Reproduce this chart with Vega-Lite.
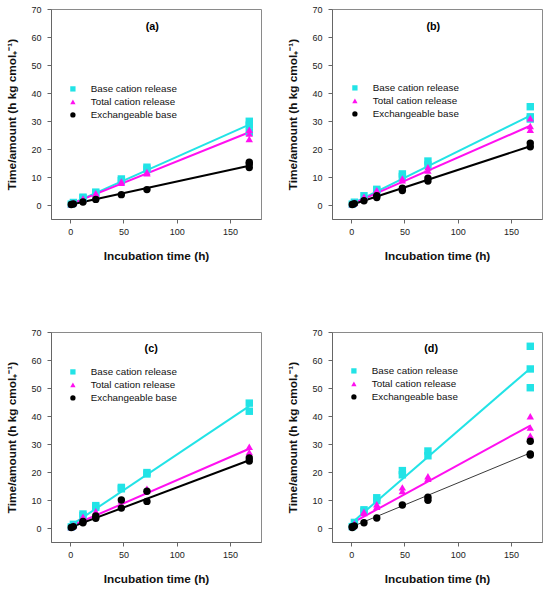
{
  "$schema": "https://vega.github.io/schema/vega-lite/v6.json",
  "background": "white",
  "padding": {"left": 6, "top": 4, "right": 5, "bottom": 2},
  "datasets": {
    "pts": [
      {"panel": "a", "series": "Base cation release", "t": 1, "v": 0.3},
      {"panel": "a", "series": "Base cation release", "t": 3, "v": 0.9},
      {"panel": "a", "series": "Base cation release", "t": 12, "v": 2.8},
      {"panel": "a", "series": "Base cation release", "t": 12, "v": 2.5},
      {"panel": "a", "series": "Base cation release", "t": 24, "v": 4.6},
      {"panel": "a", "series": "Base cation release", "t": 24, "v": 4.2},
      {"panel": "a", "series": "Base cation release", "t": 48, "v": 9.3},
      {"panel": "a", "series": "Base cation release", "t": 48, "v": 8.7},
      {"panel": "a", "series": "Base cation release", "t": 72, "v": 13.5},
      {"panel": "a", "series": "Base cation release", "t": 72, "v": 12.8},
      {"panel": "a", "series": "Base cation release", "t": 168, "v": 29.9},
      {"panel": "a", "series": "Base cation release", "t": 168, "v": 28.5},
      {"panel": "a", "series": "Base cation release", "t": 168, "v": 26},
      {"panel": "a", "series": "Total cation release", "t": 1, "v": 0.3},
      {"panel": "a", "series": "Total cation release", "t": 3, "v": 0.8},
      {"panel": "a", "series": "Total cation release", "t": 12, "v": 2.3},
      {"panel": "a", "series": "Total cation release", "t": 24, "v": 4.2},
      {"panel": "a", "series": "Total cation release", "t": 24, "v": 3.9},
      {"panel": "a", "series": "Total cation release", "t": 48, "v": 8.4},
      {"panel": "a", "series": "Total cation release", "t": 48, "v": 7.9},
      {"panel": "a", "series": "Total cation release", "t": 72, "v": 11.8},
      {"panel": "a", "series": "Total cation release", "t": 72, "v": 11.3},
      {"panel": "a", "series": "Total cation release", "t": 168, "v": 26.9},
      {"panel": "a", "series": "Total cation release", "t": 168, "v": 25.5},
      {"panel": "a", "series": "Total cation release", "t": 168, "v": 23.6},
      {"panel": "a", "series": "Exchangeable base", "t": 1, "v": 0.15},
      {"panel": "a", "series": "Exchangeable base", "t": 3, "v": 0.4},
      {"panel": "a", "series": "Exchangeable base", "t": 12, "v": 1.1},
      {"panel": "a", "series": "Exchangeable base", "t": 24, "v": 2},
      {"panel": "a", "series": "Exchangeable base", "t": 48, "v": 3.7},
      {"panel": "a", "series": "Exchangeable base", "t": 72, "v": 5.5},
      {"panel": "a", "series": "Exchangeable base", "t": 168, "v": 15.3},
      {"panel": "a", "series": "Exchangeable base", "t": 168, "v": 14.6},
      {"panel": "a", "series": "Exchangeable base", "t": 168, "v": 13.4},

      {"panel": "b", "series": "Base cation release", "t": 1, "v": 0.3},
      {"panel": "b", "series": "Base cation release", "t": 3, "v": 1},
      {"panel": "b", "series": "Base cation release", "t": 12, "v": 3.3},
      {"panel": "b", "series": "Base cation release", "t": 24, "v": 5.6},
      {"panel": "b", "series": "Base cation release", "t": 24, "v": 5.2},
      {"panel": "b", "series": "Base cation release", "t": 48, "v": 11.1},
      {"panel": "b", "series": "Base cation release", "t": 48, "v": 10.2},
      {"panel": "b", "series": "Base cation release", "t": 72, "v": 15.7},
      {"panel": "b", "series": "Base cation release", "t": 72, "v": 14.3},
      {"panel": "b", "series": "Base cation release", "t": 168, "v": 35.1},
      {"panel": "b", "series": "Base cation release", "t": 168, "v": 31.5},
      {"panel": "b", "series": "Base cation release", "t": 168, "v": 30.7},
      {"panel": "b", "series": "Total cation release", "t": 1, "v": 0.3},
      {"panel": "b", "series": "Total cation release", "t": 3, "v": 0.9},
      {"panel": "b", "series": "Total cation release", "t": 12, "v": 3},
      {"panel": "b", "series": "Total cation release", "t": 24, "v": 5.3},
      {"panel": "b", "series": "Total cation release", "t": 24, "v": 4.8},
      {"panel": "b", "series": "Total cation release", "t": 48, "v": 9.5},
      {"panel": "b", "series": "Total cation release", "t": 48, "v": 8.8},
      {"panel": "b", "series": "Total cation release", "t": 72, "v": 13.5},
      {"panel": "b", "series": "Total cation release", "t": 72, "v": 12.3},
      {"panel": "b", "series": "Total cation release", "t": 168, "v": 31},
      {"panel": "b", "series": "Total cation release", "t": 168, "v": 28.2},
      {"panel": "b", "series": "Total cation release", "t": 168, "v": 26.9},
      {"panel": "b", "series": "Exchangeable base", "t": 1, "v": 0.2},
      {"panel": "b", "series": "Exchangeable base", "t": 3, "v": 0.5},
      {"panel": "b", "series": "Exchangeable base", "t": 12, "v": 1.5},
      {"panel": "b", "series": "Exchangeable base", "t": 24, "v": 3.3},
      {"panel": "b", "series": "Exchangeable base", "t": 24, "v": 2.7},
      {"panel": "b", "series": "Exchangeable base", "t": 48, "v": 6},
      {"panel": "b", "series": "Exchangeable base", "t": 48, "v": 5.2},
      {"panel": "b", "series": "Exchangeable base", "t": 72, "v": 9.6},
      {"panel": "b", "series": "Exchangeable base", "t": 72, "v": 8.6},
      {"panel": "b", "series": "Exchangeable base", "t": 168, "v": 22.1},
      {"panel": "b", "series": "Exchangeable base", "t": 168, "v": 20.8},

      {"panel": "c", "series": "Base cation release", "t": 1, "v": 0.4},
      {"panel": "c", "series": "Base cation release", "t": 3, "v": 1.3},
      {"panel": "c", "series": "Base cation release", "t": 12, "v": 5},
      {"panel": "c", "series": "Base cation release", "t": 12, "v": 4.4},
      {"panel": "c", "series": "Base cation release", "t": 24, "v": 8},
      {"panel": "c", "series": "Base cation release", "t": 24, "v": 7.4},
      {"panel": "c", "series": "Base cation release", "t": 48, "v": 14.5},
      {"panel": "c", "series": "Base cation release", "t": 48, "v": 14},
      {"panel": "c", "series": "Base cation release", "t": 72, "v": 19.8},
      {"panel": "c", "series": "Base cation release", "t": 72, "v": 19.3},
      {"panel": "c", "series": "Base cation release", "t": 168, "v": 44.6},
      {"panel": "c", "series": "Base cation release", "t": 168, "v": 41.7},
      {"panel": "c", "series": "Total cation release", "t": 1, "v": 0.3},
      {"panel": "c", "series": "Total cation release", "t": 3, "v": 1},
      {"panel": "c", "series": "Total cation release", "t": 12, "v": 4},
      {"panel": "c", "series": "Total cation release", "t": 12, "v": 3.5},
      {"panel": "c", "series": "Total cation release", "t": 24, "v": 6},
      {"panel": "c", "series": "Total cation release", "t": 24, "v": 5.4},
      {"panel": "c", "series": "Total cation release", "t": 48, "v": 9.8},
      {"panel": "c", "series": "Total cation release", "t": 72, "v": 14},
      {"panel": "c", "series": "Total cation release", "t": 72, "v": 13.4},
      {"panel": "c", "series": "Total cation release", "t": 168, "v": 29},
      {"panel": "c", "series": "Total cation release", "t": 168, "v": 27.1},
      {"panel": "c", "series": "Exchangeable base", "t": 1, "v": 0.2},
      {"panel": "c", "series": "Exchangeable base", "t": 3, "v": 0.5},
      {"panel": "c", "series": "Exchangeable base", "t": 12, "v": 2.3},
      {"panel": "c", "series": "Exchangeable base", "t": 12, "v": 1.9},
      {"panel": "c", "series": "Exchangeable base", "t": 24, "v": 4.3},
      {"panel": "c", "series": "Exchangeable base", "t": 24, "v": 3.5},
      {"panel": "c", "series": "Exchangeable base", "t": 48, "v": 10},
      {"panel": "c", "series": "Exchangeable base", "t": 48, "v": 7.1},
      {"panel": "c", "series": "Exchangeable base", "t": 72, "v": 13.1},
      {"panel": "c", "series": "Exchangeable base", "t": 72, "v": 9.5},
      {"panel": "c", "series": "Exchangeable base", "t": 168, "v": 25},
      {"panel": "c", "series": "Exchangeable base", "t": 168, "v": 23.9},

      {"panel": "d", "series": "Base cation release", "t": 1, "v": 0.5},
      {"panel": "d", "series": "Base cation release", "t": 3, "v": 2},
      {"panel": "d", "series": "Base cation release", "t": 12, "v": 6.5},
      {"panel": "d", "series": "Base cation release", "t": 12, "v": 6},
      {"panel": "d", "series": "Base cation release", "t": 24, "v": 10.8},
      {"panel": "d", "series": "Base cation release", "t": 24, "v": 9.8},
      {"panel": "d", "series": "Base cation release", "t": 48, "v": 20.5},
      {"panel": "d", "series": "Base cation release", "t": 48, "v": 19},
      {"panel": "d", "series": "Base cation release", "t": 72, "v": 27.5},
      {"panel": "d", "series": "Base cation release", "t": 72, "v": 25.8},
      {"panel": "d", "series": "Base cation release", "t": 168, "v": 64.9},
      {"panel": "d", "series": "Base cation release", "t": 168, "v": 56.8},
      {"panel": "d", "series": "Base cation release", "t": 168, "v": 50.1},
      {"panel": "d", "series": "Total cation release", "t": 1, "v": 0.4},
      {"panel": "d", "series": "Total cation release", "t": 3, "v": 1.6},
      {"panel": "d", "series": "Total cation release", "t": 12, "v": 5.8},
      {"panel": "d", "series": "Total cation release", "t": 12, "v": 5.3},
      {"panel": "d", "series": "Total cation release", "t": 24, "v": 8.5},
      {"panel": "d", "series": "Total cation release", "t": 24, "v": 7.6},
      {"panel": "d", "series": "Total cation release", "t": 48, "v": 14.5},
      {"panel": "d", "series": "Total cation release", "t": 48, "v": 13.2},
      {"panel": "d", "series": "Total cation release", "t": 72, "v": 18.5},
      {"panel": "d", "series": "Total cation release", "t": 72, "v": 17.6},
      {"panel": "d", "series": "Total cation release", "t": 168, "v": 39.9},
      {"panel": "d", "series": "Total cation release", "t": 168, "v": 35.9},
      {"panel": "d", "series": "Total cation release", "t": 168, "v": 33},
      {"panel": "d", "series": "Exchangeable base", "t": 1, "v": 0.2},
      {"panel": "d", "series": "Exchangeable base", "t": 1, "v": 0.5},
      {"panel": "d", "series": "Exchangeable base", "t": 3, "v": 0.7},
      {"panel": "d", "series": "Exchangeable base", "t": 12, "v": 1.9},
      {"panel": "d", "series": "Exchangeable base", "t": 24, "v": 3.6},
      {"panel": "d", "series": "Exchangeable base", "t": 48, "v": 8.2},
      {"panel": "d", "series": "Exchangeable base", "t": 72, "v": 11},
      {"panel": "d", "series": "Exchangeable base", "t": 72, "v": 9.9},
      {"panel": "d", "series": "Exchangeable base", "t": 168, "v": 31},
      {"panel": "d", "series": "Exchangeable base", "t": 168, "v": 26.4},
      {"panel": "d", "series": "Exchangeable base", "t": 168, "v": 26.1}
    ],
    "fit": [
      {"panel": "a", "series": "Base cation release", "t": 1, "v": 0.4},
      {"panel": "a", "series": "Base cation release", "t": 168, "v": 28.7},
      {"panel": "a", "series": "Total cation release", "t": 1, "v": 0.4},
      {"panel": "a", "series": "Total cation release", "t": 168, "v": 26},
      {"panel": "a", "series": "Exchangeable base", "t": 1, "v": 0.15},
      {"panel": "a", "series": "Exchangeable base", "t": 168, "v": 14},
      {"panel": "b", "series": "Base cation release", "t": 1, "v": 0.5},
      {"panel": "b", "series": "Base cation release", "t": 168, "v": 31.9},
      {"panel": "b", "series": "Total cation release", "t": 1, "v": 0.4},
      {"panel": "b", "series": "Total cation release", "t": 168, "v": 28.3},
      {"panel": "b", "series": "Exchangeable base", "t": 1, "v": 0.2},
      {"panel": "b", "series": "Exchangeable base", "t": 168, "v": 21},
      {"panel": "c", "series": "Base cation release", "t": 1, "v": 1},
      {"panel": "c", "series": "Base cation release", "t": 168, "v": 43.5},
      {"panel": "c", "series": "Total cation release", "t": 1, "v": 0.7},
      {"panel": "c", "series": "Total cation release", "t": 168, "v": 28.3},
      {"panel": "c", "series": "Exchangeable base", "t": 1, "v": 0.3},
      {"panel": "c", "series": "Exchangeable base", "t": 168, "v": 24.2},
      {"panel": "d", "series": "Base cation release", "t": 1, "v": 2},
      {"panel": "d", "series": "Base cation release", "t": 168, "v": 57},
      {"panel": "d", "series": "Total cation release", "t": 1, "v": 1.8},
      {"panel": "d", "series": "Total cation release", "t": 168, "v": 36.6},
      {"panel": "d", "series": "Exchangeable base", "t": 1, "v": 0.5},
      {"panel": "d", "series": "Exchangeable base", "t": 168, "v": 26.8}
    ]
  },
  "columns": 2,
  "bounds": "flush",
  "spacing": {"row": 113, "column": 71},
  "concat": [
    {
      "width": 210,
      "height": 210,
      "layer": [
        {
          "data": {"name": "fit"},
          "transform": [{"filter": "datum.panel == 'a'"}],
          "mark": {"type": "line", "strokeWidth": 2},
          "encoding": {
            "x": {"field": "t", "type": "quantitative", "scale": {"domain": [-18, 179], "nice": false, "zero": false}, "axis": {"values": [0, 50, 100, 150], "title": "Incubation time (h)"}},
            "y": {"field": "v", "type": "quantitative", "scale": {"domain": [-5, 70], "nice": false, "zero": false}, "axis": {"values": [0, 10, 20, 30, 40, 50, 60, 70], "title": "Time/amount (h kg cmol₊⁻¹)"}},
            "detail": {"field": "series", "type": "nominal"},
            "stroke": {"condition": [{"test": "datum.series == 'Base cation release'", "value": "#22e3e6"}, {"test": "datum.series == 'Total cation release'", "value": "#ff10f0"}], "value": "#000000"}
          }
        },
        {
          "data": {"name": "pts"},
          "transform": [{"filter": "datum.panel == 'a'"}],
          "mark": {"type": "point", "filled": true, "opacity": 1, "size": 55},
          "encoding": {
            "x": {"field": "t", "type": "quantitative", "scale": {"domain": [-18, 179], "nice": false, "zero": false}, "axis": {"values": [0, 50, 100, 150], "title": "Incubation time (h)"}},
            "y": {"field": "v", "type": "quantitative", "scale": {"domain": [-5, 70], "nice": false, "zero": false}, "axis": {"values": [0, 10, 20, 30, 40, 50, 60, 70], "title": "Time/amount (h kg cmol₊⁻¹)"}},
            "color": {"field": "series", "type": "nominal", "scale": {"domain": ["Base cation release", "Total cation release", "Exchangeable base"], "range": ["#22e3e6", "#ff10f0", "#000000"]}, "legend": {"title": null, "orient": "none", "legendX": 17, "legendY": 75}},
            "shape": {"field": "series", "type": "nominal", "scale": {"domain": ["Base cation release", "Total cation release", "Exchangeable base"], "range": ["square", "triangle-up", "circle"]}, "legend": {"title": null, "orient": "none", "legendX": 17, "legendY": 75}}
          }
        },
        {
          "data": {"values": [{"label": "(a)"}]},
          "mark": {"type": "text", "fontWeight": "bold", "fontSize": 10.8, "font": "Liberation Sans"},
          "encoding": {
            "text": {"field": "label"},
            "x": {"datum": 77, "type": "quantitative", "scale": {"domain": [-18, 179], "nice": false, "zero": false}, "axis": {"values": [0, 50, 100, 150], "title": "Incubation time (h)"}},
            "y": {"datum": 63.5, "type": "quantitative", "scale": {"domain": [-5, 70], "nice": false, "zero": false}, "axis": {"values": [0, 10, 20, 30, 40, 50, 60, 70], "title": "Time/amount (h kg cmol₊⁻¹)"}}
          }
        }
      ]
    },
    {
      "width": 210,
      "height": 210,
      "layer": [
        {
          "data": {"name": "fit"},
          "transform": [{"filter": "datum.panel == 'b'"}],
          "mark": {"type": "line", "strokeWidth": 2},
          "encoding": {
            "x": {"field": "t", "type": "quantitative", "scale": {"domain": [-18, 179], "nice": false, "zero": false}, "axis": {"values": [0, 50, 100, 150], "title": "Incubation time (h)"}},
            "y": {"field": "v", "type": "quantitative", "scale": {"domain": [-5, 70], "nice": false, "zero": false}, "axis": {"values": [0, 10, 20, 30, 40, 50, 60, 70], "title": "Time/amount (h kg cmol₊⁻¹)"}},
            "detail": {"field": "series", "type": "nominal"},
            "stroke": {"condition": [{"test": "datum.series == 'Base cation release'", "value": "#22e3e6"}, {"test": "datum.series == 'Total cation release'", "value": "#ff10f0"}], "value": "#000000"}
          }
        },
        {
          "data": {"name": "pts"},
          "transform": [{"filter": "datum.panel == 'b'"}],
          "mark": {"type": "point", "filled": true, "opacity": 1, "size": 55},
          "encoding": {
            "x": {"field": "t", "type": "quantitative", "scale": {"domain": [-18, 179], "nice": false, "zero": false}, "axis": {"values": [0, 50, 100, 150], "title": "Incubation time (h)"}},
            "y": {"field": "v", "type": "quantitative", "scale": {"domain": [-5, 70], "nice": false, "zero": false}, "axis": {"values": [0, 10, 20, 30, 40, 50, 60, 70], "title": "Time/amount (h kg cmol₊⁻¹)"}},
            "color": {"field": "series", "type": "nominal", "scale": {"domain": ["Base cation release", "Total cation release", "Exchangeable base"], "range": ["#22e3e6", "#ff10f0", "#000000"]}, "legend": {"title": null, "orient": "none", "legendX": 18, "legendY": 74}},
            "shape": {"field": "series", "type": "nominal", "scale": {"domain": ["Base cation release", "Total cation release", "Exchangeable base"], "range": ["square", "triangle-up", "circle"]}, "legend": {"title": null, "orient": "none", "legendX": 18, "legendY": 74}}
          }
        },
        {
          "data": {"values": [{"label": "(b)"}]},
          "mark": {"type": "text", "fontWeight": "bold", "fontSize": 10.8, "font": "Liberation Sans"},
          "encoding": {
            "text": {"field": "label"},
            "x": {"datum": 77, "type": "quantitative", "scale": {"domain": [-18, 179], "nice": false, "zero": false}, "axis": {"values": [0, 50, 100, 150], "title": "Incubation time (h)"}},
            "y": {"datum": 63.5, "type": "quantitative", "scale": {"domain": [-5, 70], "nice": false, "zero": false}, "axis": {"values": [0, 10, 20, 30, 40, 50, 60, 70], "title": "Time/amount (h kg cmol₊⁻¹)"}}
          }
        }
      ]
    },
    {
      "width": 210,
      "height": 210,
      "layer": [
        {
          "data": {"name": "fit"},
          "transform": [{"filter": "datum.panel == 'c'"}],
          "mark": {"type": "line", "strokeWidth": 2},
          "encoding": {
            "x": {"field": "t", "type": "quantitative", "scale": {"domain": [-18, 179], "nice": false, "zero": false}, "axis": {"values": [0, 50, 100, 150], "title": "Incubation time (h)"}},
            "y": {"field": "v", "type": "quantitative", "scale": {"domain": [-5, 70], "nice": false, "zero": false}, "axis": {"values": [0, 10, 20, 30, 40, 50, 60, 70], "title": "Time/amount (h kg cmol₊⁻¹)"}},
            "detail": {"field": "series", "type": "nominal"},
            "stroke": {"condition": [{"test": "datum.series == 'Base cation release'", "value": "#22e3e6"}, {"test": "datum.series == 'Total cation release'", "value": "#ff10f0"}], "value": "#000000"}
          }
        },
        {
          "data": {"name": "pts"},
          "transform": [{"filter": "datum.panel == 'c'"}],
          "mark": {"type": "point", "filled": true, "opacity": 1, "size": 55},
          "encoding": {
            "x": {"field": "t", "type": "quantitative", "scale": {"domain": [-18, 179], "nice": false, "zero": false}, "axis": {"values": [0, 50, 100, 150], "title": "Incubation time (h)"}},
            "y": {"field": "v", "type": "quantitative", "scale": {"domain": [-5, 70], "nice": false, "zero": false}, "axis": {"values": [0, 10, 20, 30, 40, 50, 60, 70], "title": "Time/amount (h kg cmol₊⁻¹)"}},
            "color": {"field": "series", "type": "nominal", "scale": {"domain": ["Base cation release", "Total cation release", "Exchangeable base"], "range": ["#22e3e6", "#ff10f0", "#000000"]}, "legend": {"title": null, "orient": "none", "legendX": 17, "legendY": 35}},
            "shape": {"field": "series", "type": "nominal", "scale": {"domain": ["Base cation release", "Total cation release", "Exchangeable base"], "range": ["square", "triangle-up", "circle"]}, "legend": {"title": null, "orient": "none", "legendX": 17, "legendY": 35}}
          }
        },
        {
          "data": {"values": [{"label": "(c)"}]},
          "mark": {"type": "text", "fontWeight": "bold", "fontSize": 10.8, "font": "Liberation Sans"},
          "encoding": {
            "text": {"field": "label"},
            "x": {"datum": 76, "type": "quantitative", "scale": {"domain": [-18, 179], "nice": false, "zero": false}, "axis": {"values": [0, 50, 100, 150], "title": "Incubation time (h)"}},
            "y": {"datum": 64, "type": "quantitative", "scale": {"domain": [-5, 70], "nice": false, "zero": false}, "axis": {"values": [0, 10, 20, 30, 40, 50, 60, 70], "title": "Time/amount (h kg cmol₊⁻¹)"}}
          }
        }
      ]
    },
    {
      "width": 210,
      "height": 210,
      "layer": [
        {
          "data": {"name": "fit"},
          "transform": [{"filter": "datum.panel == 'd'"}],
          "mark": {"type": "line"},
          "encoding": {
            "x": {"field": "t", "type": "quantitative", "scale": {"domain": [-18, 179], "nice": false, "zero": false}, "axis": {"values": [0, 50, 100, 150], "title": "Incubation time (h)"}},
            "y": {"field": "v", "type": "quantitative", "scale": {"domain": [-5, 70], "nice": false, "zero": false}, "axis": {"values": [0, 10, 20, 30, 40, 50, 60, 70], "title": "Time/amount (h kg cmol₊⁻¹)"}},
            "detail": {"field": "series", "type": "nominal"},
            "stroke": {"condition": [{"test": "datum.series == 'Base cation release'", "value": "#22e3e6"}, {"test": "datum.series == 'Total cation release'", "value": "#ff10f0"}], "value": "#3a3a3a"},
            "strokeWidth": {"condition": {"test": "datum.series == 'Exchangeable base'", "value": 1}, "value": 2}
          }
        },
        {
          "data": {"name": "pts"},
          "transform": [{"filter": "datum.panel == 'd'"}],
          "mark": {"type": "point", "filled": true, "opacity": 1, "size": 55},
          "encoding": {
            "x": {"field": "t", "type": "quantitative", "scale": {"domain": [-18, 179], "nice": false, "zero": false}, "axis": {"values": [0, 50, 100, 150], "title": "Incubation time (h)"}},
            "y": {"field": "v", "type": "quantitative", "scale": {"domain": [-5, 70], "nice": false, "zero": false}, "axis": {"values": [0, 10, 20, 30, 40, 50, 60, 70], "title": "Time/amount (h kg cmol₊⁻¹)"}},
            "color": {"field": "series", "type": "nominal", "scale": {"domain": ["Base cation release", "Total cation release", "Exchangeable base"], "range": ["#22e3e6", "#ff10f0", "#000000"]}, "legend": {"title": null, "orient": "none", "legendX": 17, "legendY": 34}},
            "shape": {"field": "series", "type": "nominal", "scale": {"domain": ["Base cation release", "Total cation release", "Exchangeable base"], "range": ["square", "triangle-up", "circle"]}, "legend": {"title": null, "orient": "none", "legendX": 17, "legendY": 34}}
          }
        },
        {
          "data": {"values": [{"label": "(d)"}]},
          "mark": {"type": "text", "fontWeight": "bold", "fontSize": 10.8, "font": "Liberation Sans"},
          "encoding": {
            "text": {"field": "label"},
            "x": {"datum": 75, "type": "quantitative", "scale": {"domain": [-18, 179], "nice": false, "zero": false}, "axis": {"values": [0, 50, 100, 150], "title": "Incubation time (h)"}},
            "y": {"datum": 64, "type": "quantitative", "scale": {"domain": [-5, 70], "nice": false, "zero": false}, "axis": {"values": [0, 10, 20, 30, 40, 50, 60, 70], "title": "Time/amount (h kg cmol₊⁻¹)"}}
          }
        }
      ]
    }
  ],
  "resolve": {
    "scale": {"color": "independent", "shape": "independent"}
  },
  "config": {
    "font": "Liberation Sans",
    "view": {"stroke": "#8a8a8a", "strokeWidth": 1},
    "axis": {
      "grid": false,
      "labelOverlap": false,
      "domainColor": "#666666",
      "tickColor": "#666666",
      "tickSize": 4,
      "labelFont": "Liberation Sans",
      "labelFontSize": 9,
      "labelColor": "#222222",
      "titleFont": "Liberation Sans",
      "titleFontSize": 11.8,
      "titleFontWeight": "bold",
      "titleColor": "#111111"
    },
    "axisX": {"labelPadding": 4, "titlePadding": 14},
    "axisY": {"labelPadding": 6, "titlePadding": 13},
    "legend": {
      "padding": 0,
      "labelFont": "Liberation Sans",
      "labelFontSize": 9.8,
      "labelColor": "#111111",
      "labelOffset": 13,
      "symbolSize": 28,
      "rowPadding": 2
    }
  }
}
